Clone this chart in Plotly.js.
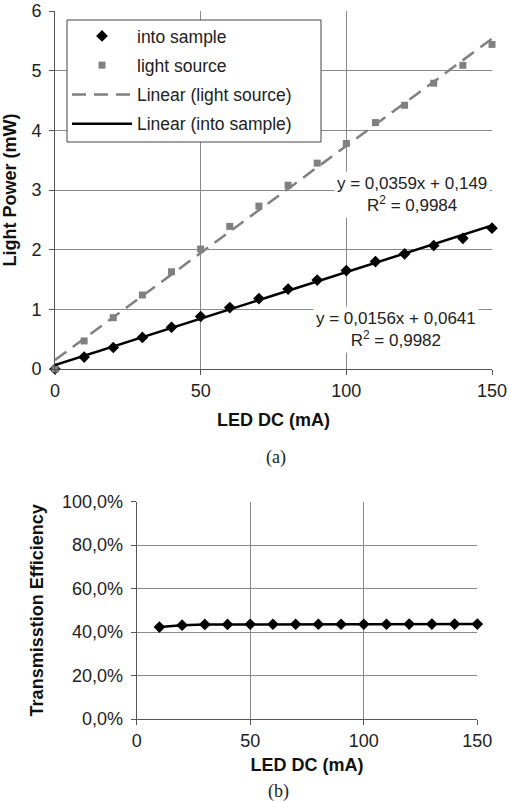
<!DOCTYPE html>
<html>
<head>
<meta charset="utf-8">
<script src="https://cdn.plot.ly/plotly-3.0.1.min.js"></script>
<style>html,body{margin:0;padding:0;background:#fff;}#chart{width:510px;height:802px;}</style>
</head>
<body>
<div id="chart"></div>
<script>
// ---- data ----
const ledCurrent = [0,10,20,30,40,50,60,70,80,90,100,110,120,130,140,150];
const intoSample = [0.00,0.20,0.36,0.53,0.70,0.88,1.03,1.18,1.34,1.49,1.65,1.80,1.93,2.07,2.19,2.36];
const lightSource = [0.00,0.47,0.86,1.24,1.63,2.01,2.39,2.73,3.08,3.45,3.78,4.13,4.42,4.79,5.09,5.44];
const fitX = [0,150];
const fitLightSource = [0.149, 5.534];
const fitIntoSample = [0.0641, 2.4041];
const effCurrent = [10,20,30,40,50,60,70,80,90,100,110,120,130,140,150];
const efficiency = [0.423,0.432,0.435,0.435,0.436,0.436,0.436,0.436,0.436,0.436,0.436,0.437,0.437,0.437,0.437];
const eqLightSource = "y = 0,0359x + 0,149<br>R<sup>2</sup> = 0,9984";
const eqIntoSample = "y = 0,0156x + 0,0641<br>R<sup>2</sup> = 0,9982";

const W = 510, H = 802;
const px = v => v / W;
const py = v => 1 - v / H;

const FONT = '"Liberation Sans", Arial, sans-serif';
const SERIF = '"Liberation Serif", "Times New Roman", serif';
const GRID = "#8a8a8a";
const LINE = "#555";

const traces = [
  {x: ledCurrent, y: intoSample, name: "into sample", legendgroup: "a", mode: "markers", type: "scatter",
   marker: {symbol: "diamond", size: 9, color: "#000"}, cliponaxis: false, xaxis: "x", yaxis: "y"},
  {x: ledCurrent, y: lightSource, name: "light source", legendgroup: "b", mode: "markers", type: "scatter",
   marker: {symbol: "square", size: 7, color: "#808080"}, cliponaxis: false, xaxis: "x", yaxis: "y"},
  {x: fitX, y: fitLightSource, name: "Linear (light source)", legendgroup: "c", mode: "lines", type: "scatter",
   line: {color: "#808080", width: 2.5, dash: "14px,8px"}, xaxis: "x", yaxis: "y"},
  {x: fitX, y: fitIntoSample, name: "Linear (into sample)", legendgroup: "d", mode: "lines", type: "scatter",
   line: {color: "#000", width: 2.5}, xaxis: "x", yaxis: "y"},
  {x: effCurrent, y: efficiency, name: "efficiency", mode: "lines+markers", type: "scatter",
   line: {color: "#000", width: 2.5}, marker: {symbol: "diamond", size: 9, color: "#000"},
   cliponaxis: false, showlegend: false, xaxis: "x2", yaxis: "y2"}
];

const axCommon = {
  showgrid: true, gridcolor: GRID, gridwidth: 1, zeroline: false,
  showline: true, linecolor: LINE, linewidth: 1,
  ticks: "outside", ticklen: 5, tickcolor: LINE,
  tickfont: {family: FONT, size: 18, color: "#222"},
  fixedrange: true
};
const titleFont = {family: FONT, size: 18, weight: "bold", color: "#111"};

const layout = {
  width: W, height: H,
  margin: {l: 0, r: 0, t: 0, b: 0},
  paper_bgcolor: "#fff", plot_bgcolor: "#fff",
  separators: ",.",
  font: {family: FONT, color: "#222"},
  showlegend: true,
  legend: {
    x: px(67), y: py(18), xanchor: "left", yanchor: "top",
    bgcolor: "rgba(0,0,0,0)", borderwidth: 0,
    font: {family: FONT, size: 17.5, color: "#222"},
    itemwidth: 60, tracegroupgap: 3.5
  },
  shapes: [
    {type: "rect", xref: "paper", yref: "paper", x0: px(67), x1: px(321), y0: py(142), y1: py(20),
     fillcolor: "#fff", line: {color: "#444", width: 1}, layer: "above"}
  ],
  xaxis: Object.assign({}, axCommon, {
    domain: [px(55), px(492)], range: [0, 150], tickvals: [0,50,100,150], anchor: "y",
    title: {text: "LED DC (mA)", font: titleFont, standoff: 13}
  }),
  yaxis: Object.assign({}, axCommon, {
    domain: [py(369), py(11)], range: [0, 6], tickvals: [0,1,2,3,4,5,6], anchor: "x",
    ticklabelstandoff: 4,
    title: {text: "Light Power (mW)", font: titleFont, standoff: 10}
  }),
  xaxis2: Object.assign({}, axCommon, {
    domain: [px(136.7), px(477.3)], range: [0, 150], tickvals: [0,50,100,150], anchor: "y2",
    title: {text: "LED DC (mA)", font: titleFont, standoff: 8}
  }),
  yaxis2: Object.assign({}, axCommon, {
    domain: [py(719), py(501.7)], range: [0, 1], tickvals: [0,0.2,0.4,0.6,0.8,1.0], tickformat: ".1%", anchor: "x2",
    ticklabelstandoff: 4,
    title: {text: "Transmisstion Efficiency", font: titleFont, standoff: 13}
  }),
  annotations: [
    {xref: "x", yref: "y", x: 122.7, y: 2.92, text: eqLightSource, showarrow: false,
     font: {family: FONT, size: 17, color: "#222"}, bgcolor: "#fff", align: "center", borderpad: 2},
    {xref: "x", yref: "y", x: 117.2, y: 0.654, text: eqIntoSample, showarrow: false,
     font: {family: FONT, size: 17, color: "#222"}, bgcolor: "#fff", align: "center", borderpad: 2},
    {xref: "paper", yref: "paper", x: px(276), y: py(458), xanchor: "center", yanchor: "middle", text: "(a)", showarrow: false,
     font: {family: SERIF, size: 18, color: "#222"}},
    {xref: "paper", yref: "paper", x: px(278), y: py(791), xanchor: "center", yanchor: "middle", text: "(b)", showarrow: false,
     font: {family: SERIF, size: 18, color: "#222"}}
  ]
};

Plotly.newPlot("chart", traces, layout, {displayModeBar: false, staticPlot: true});
</script>
</body>
</html>
